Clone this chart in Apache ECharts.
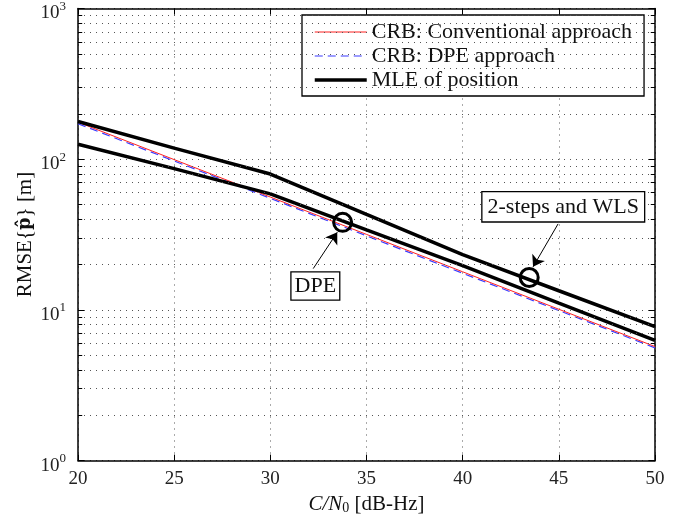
<!DOCTYPE html>
<html>
<head>
<meta charset="utf-8">
<script src="https://cdn.jsdelivr.net/npm/echarts@6/dist/echarts.min.js"></script>
<style>
    html, body { margin: 0; padding: 0; background: #fff; }
    #chart { width: 691px; height: 520px; }
</style>
</head>
<body>
<div id="chart"></div>
<script>
// data
var snr = [20, 25, 30, 35, 40, 45, 50];
var crbConv = [176, 99.4, 56.1, 31.7, 17.9, 10.1, 5.71];
var crbDpe = [172, 97.3, 55.0, 31.0, 17.5, 9.9, 5.6];
var mleTwoStep = [177.8, 118.5, 79.7, 43.0, 23.3, 13.4, 7.75];
var mleDpe = [125.6, 86.6, 58.9, 34.0, 19.7, 11.1, 6.27];

var xTicks = [20, 25, 30, 35, 40, 45, 50];
var yDecades = [1, 10, 100, 1000];

// annotations (data coords)
var dpeCircle = [33.76, 38.1];
var dpeArrow = [[32.23, 18.8], [33.48, 32.7]];
var dpeLabel = [32.34, 14.4];
var wlsCircle = [43.46, 16.4];
var wlsArrow = [[44.96, 37.2], [43.66, 19.3]];
var wlsLabel = [45.23, 48.3];

var FONT = 'Liberation Serif';
var DOT = { color: '#555', type: [1, 5], width: 1 };

function pairs(ys) {
    return snr.map(function (x, i) { return [x, ys[i]]; });
}

//minor grid values 2..9 per decade
var minorVals = [];
for (var d = 1; d < 1000; d *= 10) {
    for (var k = 2; k <= 9; k++) {
        minorVals.push(d * k);
    }
}
var minorTicks = [];
minorVals.forEach(function (v) {
    minorTicks.push([{ coord: [20, v] }, { coord: [20.22, v] }]);
    minorTicks.push([{ coord: [49.78, v] }, { coord: [50, v] }]);
});

function yLabel(v) {
    var e = Math.round(Math.log(v) / Math.LN10);
    return '{b|10}{s|' + e + '}';
}

var chart = echarts.init(document.getElementById('chart'));
var option = {
    animation: false,
    grid: { left: 78, right: 36, top: 6, bottom: 58 },
    legend: {
        left: 302,
        top: 15,
        orient: 'vertical',
        backgroundColor: '#fff',
        borderColor: '#000',
        borderWidth: 1.3,
        borderRadius: 0,
        padding: [5, 12, 4, 11],
        itemGap: 0,
        itemWidth: 52,
        itemHeight: 14,
        itemStyle: { color: 'transparent', borderWidth: 0, opacity: 0 },
        lineStyle: { width: 'inherit' },
        textStyle: { fontFamily: FONT, fontSize: 22, color: '#111', lineHeight: 24 },
        data: ['CRB: Conventional approach', 'CRB: DPE approach', 'MLE of position']
    },
    xAxis: [{
        type: 'value',
        min: 20,
        max: 50,
        interval: 5,
        name: '{i|C/N}{sub|0} [dB-Hz]',
        nameLocation: 'middle',
        nameGap: 31,
        nameTextStyle: {
            fontFamily: FONT, fontSize: 21, color: '#111',
            rich: {
                i: { fontFamily: FONT, fontSize: 21, fontStyle: 'italic', color: '#111' },
                sub: { fontFamily: FONT, fontSize: 14, color: '#111', padding: [8, 0, 0, 0] }
            }
        },
        axisLine: { show: true, onZero: false, lineStyle: { color: '#000', width: 1.5 } },
        axisTick: { inside: true, length: 6, lineStyle: { color: '#000' } },
        axisLabel: { fontFamily: FONT, fontSize: 19, color: '#222', margin: 9 },
        splitLine: { show: true, lineStyle: DOT }
    }, {
        type: 'value',
        position: 'top',
        min: 20,
        max: 50,
        interval: 5,
        axisLine: { show: true, onZero: false, lineStyle: { color: '#000', width: 1.5 } },
        axisTick: { inside: true, length: 6, lineStyle: { color: '#000' } },
        axisLabel: { show: false },
        splitLine: { show: false }
    }],
    yAxis: [{
        type: 'log',
        logBase: 10,
        min: 1,
        max: 1000,
        name: 'RMSE{{b|p̂}} [m]',
        nameLocation: 'middle',
        nameGap: 42,
        nameMoveOverlap: false,
        nameTextStyle: {
            fontFamily: FONT, fontSize: 21, color: '#111',
            rich: {
                b: { fontFamily: 'DejaVu Serif', fontSize: 18, fontWeight: 'bold', color: '#111' }
            }
        },
        axisLine: { show: true, onZero: false, lineStyle: { color: '#000', width: 1.5 } },
        axisTick: { inside: true, length: 6, lineStyle: { color: '#000' } },
        axisLabel: {
            margin: 12,
            formatter: yLabel,
            rich: {
                b: { fontFamily: FONT, fontSize: 19, color: '#222', padding: [10, 0, 0, 0] },
                s: { fontFamily: FONT, fontSize: 13, color: '#222', padding: [0, 0, 4, 0] }
            }
        },
        splitLine: { show: true, lineStyle: DOT }
    }, {
        type: 'log',
        logBase: 10,
        min: 1,
        max: 1000,
        position: 'right',
        axisLine: { show: true, onZero: false, lineStyle: { color: '#000', width: 1.5 } },
        axisTick: { inside: true, length: 6, lineStyle: { color: '#000' } },
        axisLabel: { show: false },
        splitLine: { show: false }
    }],
    series: [{
        // minor grid + minor ticks
        type: 'line',
        data: [],
        silent: true,
        markLine: {
            silent: true,
            symbol: 'none',
            label: { show: false },
            animation: false,
            data: minorVals.map(function (v) {
                return { yAxis: v, lineStyle: DOT };
            }).concat(minorTicks.map(function (t) {
                return [
                    { coord: t[0].coord, lineStyle: { color: '#000', type: 'solid', width: 1 } },
                    { coord: t[1].coord }
                ];
            }))
        }
    }, {
        name: 'CRB: DPE approach',
        type: 'line',
        symbol: 'none',
        data: pairs(crbDpe),
        lineStyle: { color: '#3b3bff', width: 1.2, type: [8, 5] },
        itemStyle: { color: '#3b3bff' }
    }, {
        name: 'CRB: Conventional approach',
        type: 'line',
        symbol: 'none',
        data: pairs(crbConv),
        lineStyle: { color: '#ff2020', width: 1 },
        itemStyle: { color: '#ff2020' }
    }, {
        name: 'MLE of position',
        type: 'line',
        symbol: 'none',
        data: pairs(mleTwoStep),
        lineStyle: { color: '#000', width: 3.5 },
        itemStyle: { color: '#000' }
    }, {
        name: 'MLE of position',
        type: 'line',
        symbol: 'none',
        data: pairs(mleDpe),
        lineStyle: { color: '#000', width: 3.5 },
        itemStyle: { color: '#000' },
        markPoint: {
            silent: true,
            animation: false,
            data: [{
                coord: dpeCircle, symbol: 'circle', symbolSize: 18,
                itemStyle: { color: 'transparent', borderColor: '#000', borderWidth: 3 },
                label: { show: false }
            }, {
                coord: wlsCircle, symbol: 'circle', symbolSize: 18,
                itemStyle: { color: 'transparent', borderColor: '#000', borderWidth: 3 },
                label: { show: false }
            }, {
                coord: dpeLabel, symbol: 'circle', symbolSize: 0,
                label: {
                    show: true, position: 'inside', formatter: 'DPE',
                    fontFamily: FONT, fontSize: 22, color: '#111',
                    backgroundColor: '#fff', borderColor: '#000', borderWidth: 1.3,
                    padding: [3, 3, 2, 3]
                }
            }, {
                coord: wlsLabel, symbol: 'circle', symbolSize: 0,
                label: {
                    show: true, position: 'inside', formatter: '2-steps and WLS',
                    fontFamily: FONT, fontSize: 22, color: '#111',
                    backgroundColor: '#fff', borderColor: '#000', borderWidth: 1.3,
                    padding: [4, 5, 3, 5]
                }
            }]
        },
        markLine: {
            silent: true,
            animation: false,
            symbol: ['none', 'arrow'],
            symbolSize: 11,
            label: { show: false },
            lineStyle: { color: '#000', width: 1, type: 'solid' },
            data: [
                [{ coord: dpeArrow[0] }, { coord: dpeArrow[1] }],
                [{ coord: wlsArrow[0] }, { coord: wlsArrow[1] }]
            ]
        }
    }]
};
chart.setOption(option);
</script>
</body>
</html>
